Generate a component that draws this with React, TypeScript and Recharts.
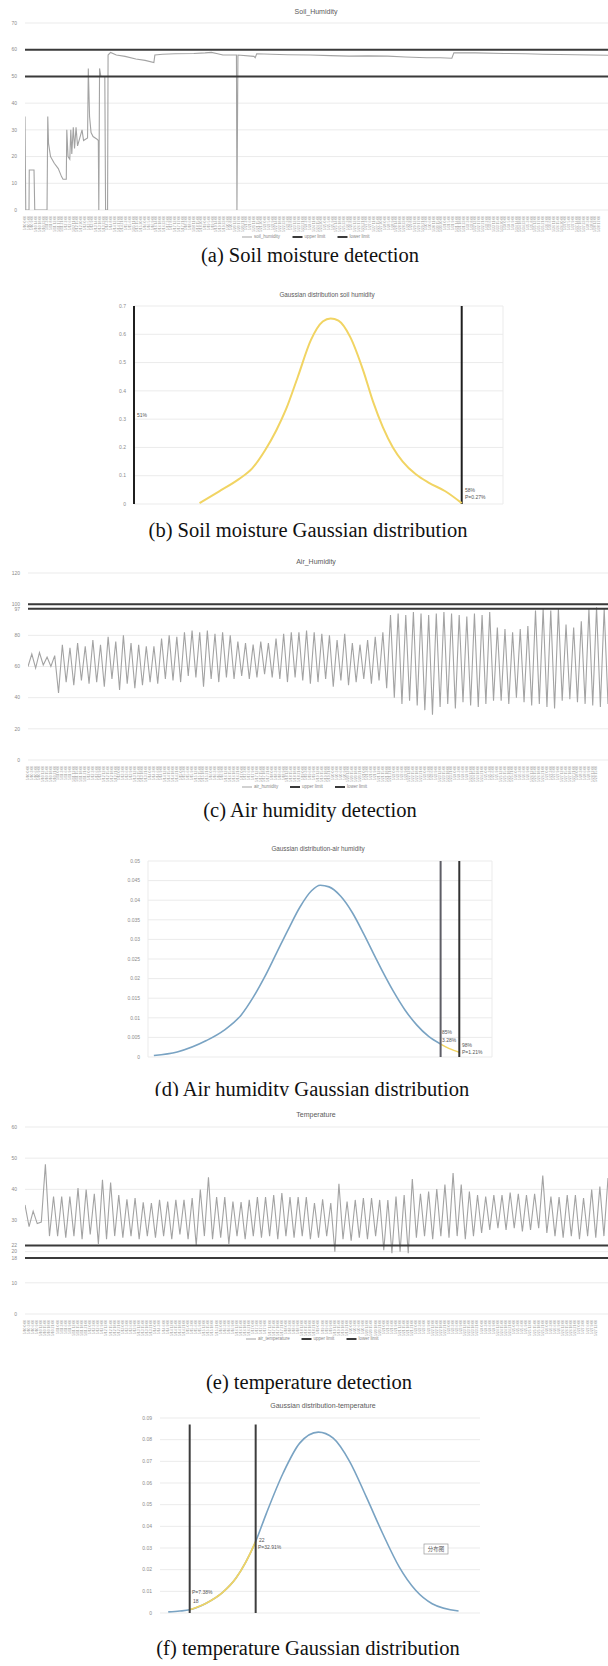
import React from "react";
import { LineChart, Line, XAxis, YAxis, CartesianGrid, ReferenceLine } from "recharts";

const SANS = "'Liberation Sans', Arial, sans-serif";
const SERIF = "'Liberation Serif', 'Times New Roman', serif";
const CJK = "'Noto Sans CJK SC', sans-serif";
const GRID = "#ebebeb";
const SERIES = "#a3a3a3";
const LIMIT = "#3a3a3a";
const YELLOW = "#f1d463";
const BLUE = "#79a3c3";
const TICK = { fontSize: 5, fill: "#8c8c8c", fontFamily: SANS };

// (a) soil humidity, sample index / reading
const soilTime = [0, 0.3, 1.6, 1.7, 3.6, 3.9, 8.8, 9.1, 9.4, 10.2, 11.7, 13.3, 14.6, 15.2, 16.5, 16.7, 17.2, 17.9, 18.3, 18.7, 19.3, 19.8, 20.4, 21, 21.6, 22.8, 23.4, 25, 25.3, 25.8, 26.4, 27.2, 28.8, 29.3, 29.5, 29.8, 30.3, 31.9, 32.2, 33, 33.2, 34.2, 36.5, 40, 44.3, 48, 51.5, 51.9, 55, 60, 67.5, 72, 74.5, 77, 79.1, 84.5, 84.7, 85.1, 91.5, 92, 92.6, 98.5, 105, 114, 122, 129.5, 137, 145, 152, 160.5, 166, 170.6, 171.4, 180, 191.6, 200, 207, 220, 233];
const soilValue = [35, 0, 0, 15, 15, 0, 0, 35, 25, 20, 17.5, 15.5, 12.5, 11.5, 11.5, 30, 20, 19, 30, 21, 31, 23, 31, 24, 26, 30, 26, 27, 53, 35, 29, 27.5, 26.5, 26, 0, 53, 50, 50, 0, 0, 58, 59, 58, 57.5, 56.5, 56, 55.2, 58, 58.3, 58.5, 58.6, 58.8, 59, 58.5, 58, 58, 0, 58, 57.5, 57, 58.5, 58.3, 58.1, 58, 57.8, 57.6, 57.7, 57.6, 57.3, 57, 57, 56.8, 58.8, 58.8, 58.6, 58.5, 58.3, 58.1, 57.9];
const soilTicks = [0, 10, 20, 30, 40, 50, 60, 70];
const soilUpper = 60;
const soilLower = 50;

// (b) soil humidity gaussian
const soilGaussX = [1.0, 1.3, 1.6, 1.8, 2.0, 2.17, 2.32, 2.5, 2.7, 2.88, 3.0, 3.12, 3.3, 3.5, 3.65, 3.8, 3.95, 4.1, 4.3, 4.5, 4.75, 5.0];
const soilGaussY = [0.003, 0.045, 0.088, 0.125, 0.19, 0.26, 0.335, 0.45, 0.58, 0.645, 0.656, 0.648, 0.59, 0.47, 0.36, 0.27, 0.2, 0.15, 0.105, 0.075, 0.045, 0.003];
const soilGaussTicks = [0, 0.1, 0.2, 0.3, 0.4, 0.5, 0.6, 0.7];

// (c) air humidity: one start value, then peak/trough per cycle
const airStart = 60;
const airPeaks = [68, 69, 66, 67, 74, 72, 75, 73, 77, 74, 79, 76, 80, 75, 74, 73, 73, 78, 80, 79, 82, 83, 82, 83, 81, 82, 80, 76, 75, 74, 76, 75, 78, 81, 82, 82, 83, 82, 81, 80, 77, 81, 75, 74, 77, 79, 82, 93, 94, 93, 95, 94, 93, 94, 95, 94, 93, 92, 94, 93, 95, 85, 84, 82, 84, 86, 96, 97, 96, 97, 87, 85, 89, 97, 98, 97];
const airTroughs = [59, 61, 60, 43, 50, 48, 51, 49, 50, 47, 52, 45, 49, 46, 48, 50, 49, 52, 51, 50, 54, 53, 47, 52, 50, 53, 52, 54, 52, 53, 55, 53, 52, 50, 53, 51, 49, 50, 52, 47, 51, 48, 50, 52, 49, 51, 46, 40, 36, 38, 35, 32, 29, 34, 36, 33, 37, 35, 34, 36, 38, 38, 36, 40, 37, 35, 36, 34, 33, 38, 39, 37, 36, 35, 34, 36];
const airTicks = [0, 20, 40, 60, 80, 97, 100, 120];
const airUpper = 100;
const airLower = 97;

// (d) air humidity gaussian
const airGaussX = [0.1, 0.5, 1.0, 1.3, 1.6, 1.8, 2.0, 2.2, 2.4, 2.6, 2.8, 2.95, 3.1, 3.3, 3.5, 3.7, 3.9, 4.0, 4.2, 4.4, 4.6, 4.8, 5.01];
const airGaussY = [0.0004, 0.0013, 0.0042, 0.0068, 0.0108, 0.0152, 0.0205, 0.0265, 0.0325, 0.0382, 0.0424, 0.0438, 0.0434, 0.041, 0.0368, 0.0312, 0.0252, 0.0223, 0.0168, 0.012, 0.0082, 0.0053, 0.0033];
const airTailX = [5.01, 5.15, 5.33];
const airTailY = [0.0033, 0.0022, 0.0012];
const airGaussTicks = [0, 0.005, 0.01, 0.015, 0.02, 0.025, 0.03, 0.035, 0.04, 0.045, 0.05];

// (e) temperature: start readings, then peak/trough per cycle
const tempStart = [35, 28, 33, 29, 29.5, 48, 25];
const tempPeaks = [37.7, 37.7, 37.7, 40.4, 39.9, 38.6, 43.1, 42.2, 38.2, 36.8, 37.2, 35.8, 35.6, 36.6, 36.1, 36.6, 36.6, 37.2, 39.9, 43.9, 37.5, 37.5, 36.1, 35.9, 36.6, 37.5, 37.5, 38.2, 38.8, 37.5, 37.5, 37.5, 35.6, 36.8, 35.6, 41.8, 36.1, 36.6, 37.2, 37.2, 36.6, 36.6, 37.7, 38.2, 43.3, 38.6, 39.3, 40.1, 41.5, 45.2, 41.5, 39.3, 38.2, 37.7, 38.2, 38.2, 39.0, 38.6, 38.2, 38.6, 44.4, 37.7, 37.5, 38.2, 38.2, 37.2, 39.9, 40.9, 43.6];
const tempTroughs = [25, 24.5, 25, 24, 25.5, 22.5, 24, 25, 24.5, 25, 24, 25, 24.5, 25, 24, 25.5, 24, 22, 25, 24, 24.5, 22.5, 25, 24, 25, 24.5, 25, 24, 25, 24.5, 25, 24, 24.5, 25, 20, 24, 23.5, 24.5, 24, 25, 20.5, 19.5, 20, 19.5, 24.5, 25, 24, 25, 24.5, 25, 24, 25, 26, 27, 27.5, 27, 27.5, 26.5, 27, 27.5, 26, 25, 24.5, 25, 24, 25, 24.5, 25, 24];
const tempTicks = [0, 10, 18, 20, 22, 30, 40, 50, 60];
const tempUpper = 22;
const tempLower = 18;

// (f) temperature gaussian (x in degrees)
const tempGaussX = [16.7, 17.4, 18, 19, 20, 20.8, 21.4, 22, 22.65, 23.66, 24.67, 25.8, 26.7, 27.7, 28.7, 29.7, 30.7, 31.7, 32.7, 34.3];
const tempGaussY = [0.0005, 0.0009, 0.0015, 0.0045, 0.0095, 0.016, 0.0235, 0.033, 0.046, 0.0645, 0.0784, 0.0835, 0.0807, 0.0699, 0.0537, 0.0367, 0.0213, 0.0105, 0.0043, 0.0009];
const tempBandX = [18, 19, 20, 20.8, 21.4, 22];
const tempBandY = [0.0015, 0.0045, 0.0095, 0.016, 0.0235, 0.033];
const tempGaussTicks = [0, 0.01, 0.02, 0.03, 0.04, 0.05, 0.06, 0.07, 0.08, 0.09];

const soilData = soilTime.map((t, i) => ({ t, v: soilValue[i] }));
const cycles = (start: number[], peaks: number[], troughs: number[]) => {
  const vals = [...start];
  peaks.forEach((p, i) => vals.push(p, troughs[i]));
  return vals.map((v, t) => ({ t, v }));
};
const airData = cycles([airStart], airPeaks, airTroughs);
const tempData = cycles(tempStart, tempPeaks, tempTroughs);
const pairs = (xs: number[], ys: number[]) => xs.map((x, i) => ({ x, y: ys[i] }));

const soilXTicks = Array.from({ length: 154 }, (_, i) => i * 1.5);
const airXTicks = Array.from({ length: 150 }, (_, i) => i);
const tempXTicks = Array.from({ length: 141 }, (_, i) => i);

function TimeTick(props: any) {
  const { x, y, payload } = props;
  const h = Math.round(payload.value * 3);
  const label = `5/${10 + Math.floor(h / 24)} ${h % 24}:00`;
  return (
    <text x={x} y={y - 2} transform={`rotate(-90, ${x}, ${y - 2})`} textAnchor="end" dominantBaseline="middle" fontSize={3.4} fill="#9a9a9a" fontFamily={SANS}>
      {label}
    </text>
  );
}

function Caption({ cx, cy, text }: { cx: number; cy: number; text: string }) {
  return (
    <div style={{ position: "absolute", left: cx, top: cy - 12, transform: "translateX(-50%)", whiteSpace: "nowrap", fontFamily: SERIF, fontSize: 20.5, lineHeight: "24px", color: "#111" }}>
      {text}
    </div>
  );
}

function Legend3({ x, y, name }: { x: number; y: number; name: string }) {
  const w1 = name.length * 2.5;
  const x2 = x + 13 + w1 + 5;
  const x3 = x2 + 45;
  const ts = { fontSize: 4.5, fill: "#888", fontFamily: SANS, dominantBaseline: "middle" as const };
  return (
    <g>
      <line x1={x} x2={x + 10} y1={y} y2={y} stroke={SERIES} strokeWidth={1} />
      <text x={x + 12} y={y} {...ts}>{name}</text>
      <line x1={x2} x2={x2 + 10} y1={y} y2={y} stroke={LIMIT} strokeWidth={2} />
      <text x={x2 + 12} y={y} {...ts}>upper limit</text>
      <line x1={x3} x2={x3 + 10} y1={y} y2={y} stroke={LIMIT} strokeWidth={2} />
      <text x={x3 + 12} y={y} {...ts}>lower limit</text>
    </g>
  );
}

function Note({ x, y, children, size = 5 }: { x: number; y: number; children: React.ReactNode; size?: number }) {
  return (
    <text x={x} y={y} fontSize={size} fill="#555" fontFamily={SANS} dominantBaseline="middle">
      {children}
    </text>
  );
}

function Title({ x, y, children, size = 7 }: { x: number; y: number; children: React.ReactNode; size?: number }) {
  return (
    <text x={x} y={y} fontSize={size} fill="#5a5a5a" fontFamily={SANS} textAnchor="middle" dominantBaseline="middle">
      {children}
    </text>
  );
}

function TimeSeries({ top, data, yMax, yTicks, upper, lower, xMax, xTicks, yWidth }: any) {
  return (
    <div style={{ position: "absolute", left: 0, top }}>
      <LineChart width={608} height={240} data={data} margin={{ top: 23, right: 0, bottom: 0, left: 0 }}>
        <CartesianGrid stroke={GRID} vertical={false} />
        <XAxis type="number" dataKey="t" domain={[0, xMax]} ticks={xTicks} interval={0} tick={<TimeTick />} axisLine={false} tickLine={false} height={30} allowDataOverflow />
        <YAxis type="number" domain={[0, yMax]} ticks={yTicks} interval={0} tick={TICK} axisLine={false} tickLine={false} width={yWidth} allowDataOverflow />
        <Line dataKey="v" type="linear" stroke={SERIES} strokeWidth={1.1} dot={false} isAnimationActive={false} />
        <ReferenceLine y={upper} stroke={LIMIT} strokeWidth={2} />
        <ReferenceLine y={lower} stroke={LIMIT} strokeWidth={2} />
      </LineChart>
    </div>
  );
}

export default function App() {
  return (
    <div style={{ position: "absolute", left: 0, top: 0, width: 608, height: 1666, overflow: "hidden", background: "#fff" }}>
      <TimeSeries top={0} data={soilData} yMax={70} yTicks={soilTicks} upper={soilUpper} lower={soilLower} xMax={233} xTicks={soilXTicks} yWidth={25} />

      <div style={{ position: "absolute", left: 0, top: 290 }}>
        <LineChart width={520} height={230} margin={{ top: 16, right: 17, bottom: 16, left: 0 }}>
          <CartesianGrid stroke={GRID} />
          <XAxis type="number" dataKey="x" domain={[0, 5.63]} ticks={[0, 1, 2, 3, 4, 5]} interval={0} tick={false} axisLine={false} tickLine={false} height={0} allowDataOverflow />
          <YAxis type="number" domain={[0, 0.7]} ticks={soilGaussTicks} interval={0} tick={TICK} axisLine={false} tickLine={false} width={134} />
          <ReferenceLine x={0} stroke="#1f1f1f" strokeWidth={2} />
          <ReferenceLine x={5} stroke="#1f1f1f" strokeWidth={2} />
          <Line data={pairs(soilGaussX, soilGaussY)} dataKey="y" type="monotone" stroke={YELLOW} strokeWidth={2} dot={false} isAnimationActive={false} />
        </LineChart>
      </div>

      <TimeSeries top={550} data={airData} yMax={120} yTicks={airTicks} upper={airUpper} lower={airLower} xMax={152} xTicks={airXTicks} yWidth={28} />

      <div style={{ position: "absolute", left: 0, top: 845 }}>
        <LineChart width={500} height={216} margin={{ top: 16, right: 8, bottom: 4, left: 0 }}>
          <CartesianGrid stroke={GRID} />
          <XAxis type="number" dataKey="x" domain={[0, 5.89]} ticks={[0, 1, 2, 3, 4, 5]} interval={0} tick={false} axisLine={false} tickLine={false} height={0} allowDataOverflow />
          <YAxis type="number" domain={[0, 0.05]} ticks={airGaussTicks} interval={0} tick={TICK} axisLine={false} tickLine={false} width={148} />
          <Line data={pairs(airGaussX, airGaussY)} dataKey="y" type="monotone" stroke={BLUE} strokeWidth={1.6} dot={false} isAnimationActive={false} />
          <Line data={pairs(airTailX, airTailY)} dataKey="y" type="monotone" stroke={YELLOW} strokeWidth={1.6} dot={false} isAnimationActive={false} />
          <ReferenceLine x={5.01} stroke="#5e5e66" strokeWidth={2} />
          <ReferenceLine x={5.33} stroke="#333" strokeWidth={2} />
        </LineChart>
      </div>

      <div style={{ position: "absolute", left: 0, top: 1096, width: 608, height: 10, background: "#fff", zIndex: 2 }} />
      <TimeSeries top={1104} data={tempData} yMax={60} yTicks={tempTicks} upper={tempUpper} lower={tempLower} xMax={143} xTicks={tempXTicks} yWidth={25} />

      <div style={{ position: "absolute", left: 0, top: 1400 }}>
        <LineChart width={490} height={217} margin={{ top: 18, right: 10, bottom: 4, left: 0 }}>
          <CartesianGrid stroke={GRID} vertical={false} />
          <XAxis type="number" dataKey="x" domain={[16.2, 35.6]} tick={false} axisLine={false} tickLine={false} height={0} allowDataOverflow />
          <YAxis type="number" domain={[0, 0.09]} ticks={tempGaussTicks} interval={0} tick={TICK} axisLine={false} tickLine={false} width={160} />
          <Line data={pairs(tempGaussX, tempGaussY)} dataKey="y" type="monotone" stroke={BLUE} strokeWidth={1.6} dot={false} isAnimationActive={false} />
          <Line data={pairs(tempBandX, tempBandY)} dataKey="y" type="monotone" stroke={YELLOW} strokeWidth={1.8} dot={false} isAnimationActive={false} />
          <ReferenceLine segment={[{ x: tempLower, y: 0 }, { x: tempLower, y: 0.087 }]} stroke="#3d3d3d" strokeWidth={2} />
          <ReferenceLine segment={[{ x: tempUpper, y: 0 }, { x: tempUpper, y: 0.087 }]} stroke="#3d3d3d" strokeWidth={2} />
        </LineChart>
      </div>

      <svg width={608} height={1666} style={{ position: "absolute", left: 0, top: 0, pointerEvents: "none", zIndex: 3 }}>
        <Title x={316} y={12}>Soil_Humidity</Title>
        <Legend3 x={242} y={237} name="soil_humidity" />
        <Title x={327} y={295} size={6.3}>Gaussian distribution soil humidity</Title>
        <Note x={137} y={416}>51%</Note>
        <Note x={465} y={491}>58%</Note>
        <Note x={465} y={497.5}>P=0.27%</Note>
        <Title x={316} y={562}>Air_Humidity</Title>
        <Legend3 x={242} y={787} name="air_humidity" />
        <Title x={318} y={849} size={6.3}>Gaussian distribution-air humidity</Title>
        <Note x={442} y={1033}>85%</Note>
        <Note x={442} y={1041}>3.28%</Note>
        <Note x={462} y={1046}>98%</Note>
        <Note x={462} y={1053}>P=1.21%</Note>
        <Title x={316} y={1115}>Temperature</Title>
        <Legend3 x={246} y={1339} name="air_temperature" />
        <Title x={323} y={1406}>Gaussian distribution-temperature</Title>
        <Note x={259} y={1541}>22</Note>
        <Note x={258} y={1548}>P=32.91%</Note>
        <Note x={192} y={1593}>P=7.38%</Note>
        <Note x={193} y={1602}>18</Note>
        <rect x={424} y={1544} width={24} height={10} fill="#fff" stroke="#999" strokeWidth={0.7} />
        <text x={436} y={1549.5} fontSize={5.5} fill="#555" fontFamily={CJK} textAnchor="middle" dominantBaseline="middle">分布图</text>
      </svg>

      <Caption cx={310} cy={255} text="(a)  Soil moisture detection" />
      <Caption cx={308} cy={530} text="(b)  Soil moisture Gaussian distribution" />
      <Caption cx={310} cy={810} text="(c)  Air humidity detection" />
      <div style={{ position: "absolute", left: 0, top: 1070, zIndex: 1 }}>
        <Caption cx={312} cy={19} text="(d)  Air humidity Gaussian distribution" />
      </div>
      <Caption cx={309} cy={1382} text="(e)  temperature detection" />
      <Caption cx={308} cy={1648} text="(f)  temperature Gaussian distribution" />
    </div>
  );
}
